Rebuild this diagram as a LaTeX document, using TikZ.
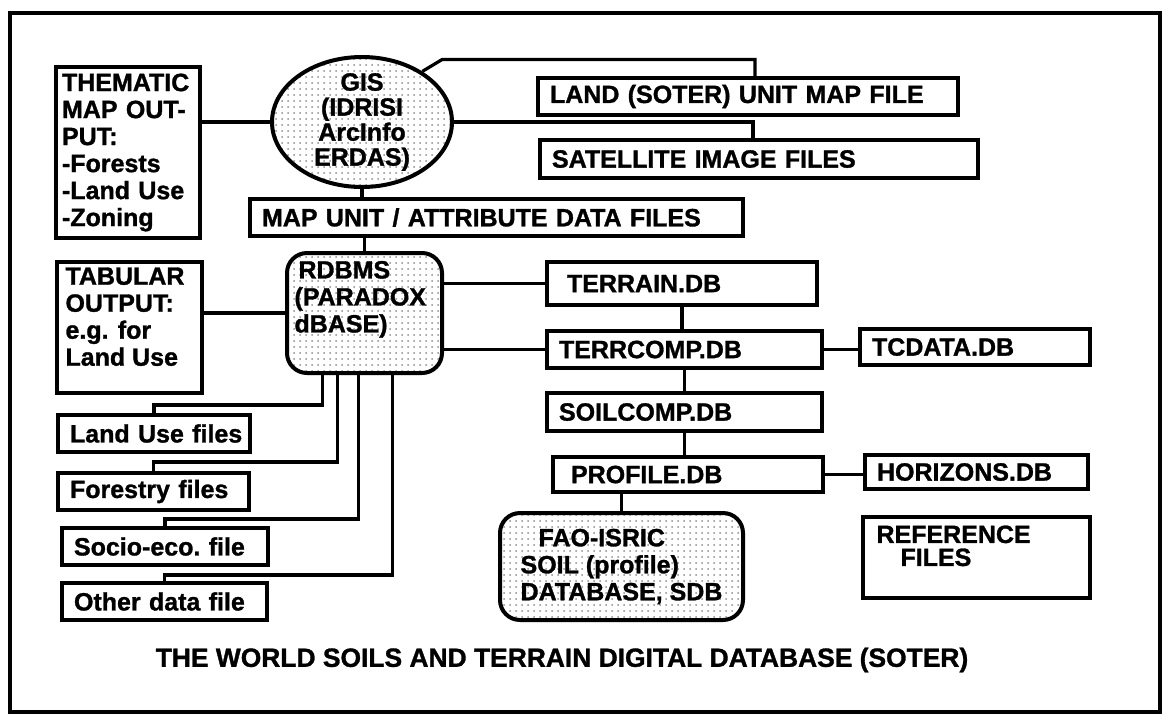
\documentclass[tikz,border=0pt]{standalone}
\usepackage{fontspec}
\setmainfont{Liberation Sans}[BoldFeatures={FakeBold=1.2}]
\usetikzlibrary{shapes.geometric,patterns}

\begin{document}
\begin{tikzpicture}[x=0.5pt,y=-0.5pt,
  font=\bfseries\fontsize{12.5}{13.5}\selectfont,
  box/.style={draw,line width=2pt,inner xsep=6pt,inner ysep=0pt,align=left},
  rbox/.style={box,rounded corners=10pt,pattern=dots,pattern color=black!45},
  link/.style={line width=1.6pt}]
  \useasboundingbox (0,0) rectangle (1168,719);
  \draw[line width=2pt] (10,13) rectangle (1160,712);

  % outputs and GIS
  \node[box,text width=66pt,inner xsep=3pt,minimum height=85.5pt] (them) at (128,152.5)
    {THEMATIC\\MAP OUT-\\PUT:\\-Forests\\-Land Use\\-Zoning};
  \node[ellipse,draw,line width=2pt,minimum width=90pt,minimum height=65pt,
    inner xsep=0pt,inner ysep=-3pt,align=center,pattern=dots,pattern color=black!45,
    font=\bfseries\fontsize{12.5}{12.5}\selectfont] (gis) at (362,122)
    {GIS\\(IDRISI\\ArcInfo\\ERDAS)};
  \node[box,text width=198pt,minimum height=18.5pt] (land) at (748,96.5) {LAND (SOTER) UNIT MAP FILE};
  \node[box,text width=207pt,minimum height=19pt] (sat) at (759,159) {SATELLITE IMAGE FILES};
  \node[box,text width=234.5pt,minimum height=18.5pt] (mapu) at (496.5,217.5) {MAP UNIT / ATTRIBUTE DATA FILES};

  % RDBMS side
  \node[rbox,minimum width=77.5pt,minimum height=60pt,inner xsep=0pt] (rdbms) at (364.5,313)
    {\parbox[c][52pt][t]{70pt}{\hspace*{2pt}RDBMS\\(PARADOX\\dBASE)}};
  \node[box,minimum width=72.5pt,minimum height=65.5pt,inner xsep=4pt] (tab) at (129.5,327.5)
    {\parbox[c][60pt][t]{64pt}{TABULAR\\OUTPUT:\\e.g. for\\Land Use}};
  \node[box,text width=84pt,minimum height=18.5pt] (luse) at (154,433.5) {\mbox{Land Use files}};
  \node[box,text width=83.5pt,minimum height=18.5pt] (forest) at (153.5,491.5) {\mbox{Forestry files}};
  \node[box,text width=91pt,minimum height=18.5pt] (socio) at (165,546.5) {Socio-eco.\ file};
  \node[box,text width=90.5pt,minimum height=18.5pt] (other) at (164.5,601.5) {Other data file};

  % SOTER tables
  \node[box,text width=123pt,minimum height=21.5pt] (terrain) at (682,283.5) {\hspace*{4pt}TERRAIN.DB};
  \node[box,text width=125.5pt,minimum height=18.5pt] (terrcomp) at (684.5,349.5) {TERRCOMP.DB};
  \node[box,text width=103pt,minimum height=18pt] (tcdata) at (975,347) {TCDATA.DB};
  \node[box,text width=125.5pt,minimum height=19pt] (soilcomp) at (684.5,412) {SOILCOMP.DB};
  \node[box,text width=123pt,minimum height=17.5pt] (profile) at (688,474.5) {\hspace*{3pt}PROFILE.DB};
  \node[box,text width=99.5pt,minimum height=17pt] (horizons) at (976.5,472) {HORIZONS.DB};
  \node[rbox,minimum width=121.5pt,minimum height=53.5pt,inner xsep=0pt] (fao) at (621.5,566.5)
    {\hspace*{9pt}FAO-ISRIC\\SOIL (profile)\\DATABASE, SDB};
  \node[box,minimum width=113.5pt,minimum height=40.5pt] (ref) at (976.5,557.5)
    {\parbox[c][32pt][t]{100pt}{REFERENCE\\[-2pt]\hspace*{12pt}FILES}};

  \node[font=\bfseries\fontsize{13.2}{14}\selectfont] (title) at (562,660)
    {THE WORLD SOILS AND TERRAIN DIGITAL DATABASE (SOTER)};

  % connectors
  \draw[link] (them.east |- gis.west) -- (gis.west);
  \draw[link] (gis.40) -- ++(20,-12) -| ([shift={(7,0)}]land.north);
  \draw[link] (gis.east) -| ([shift={(-6,0)}]sat.north);
  \draw[link] (gis.south) -- (gis.south |- mapu.north);
  \draw[link] (rdbms.north |- mapu.south) -- (rdbms.north);
  \draw[link] (tab.east |- rdbms.west) -- (rdbms.west);
  \draw[link] (rdbms.east |- terrain.west) -- (terrain.west);
  \draw[link] (rdbms.east |- terrcomp.west) -- (terrcomp.west);
  \draw[link] ([shift={(-42,0)}]rdbms.south) -- ++(0,30) -| (luse.north);
  \draw[link] ([shift={(-27,0)}]rdbms.south) -- ++(0,87) -| (forest.north);
  \draw[link] ([shift={(-6,0)}]rdbms.south) -- ++(0,144) -| (socio.north);
  \draw[link] ([shift={(28,0)}]rdbms.south) -- ++(0,200) -| (other.north);
  \draw[link] (terrain.south) -- (terrain.south |- terrcomp.north);
  \draw[link] (terrcomp.south) -- (soilcomp.north);
  \draw[link] (terrcomp.east) -- (terrcomp.east -| tcdata.west);
  \draw[link] (soilcomp.south) -- (soilcomp.south |- profile.north);
  \draw[link] (profile.east) -- (profile.east -| horizons.west);
  \draw[link] (fao.north |- profile.south) -- (fao.north);
\end{tikzpicture}
\end{document}
